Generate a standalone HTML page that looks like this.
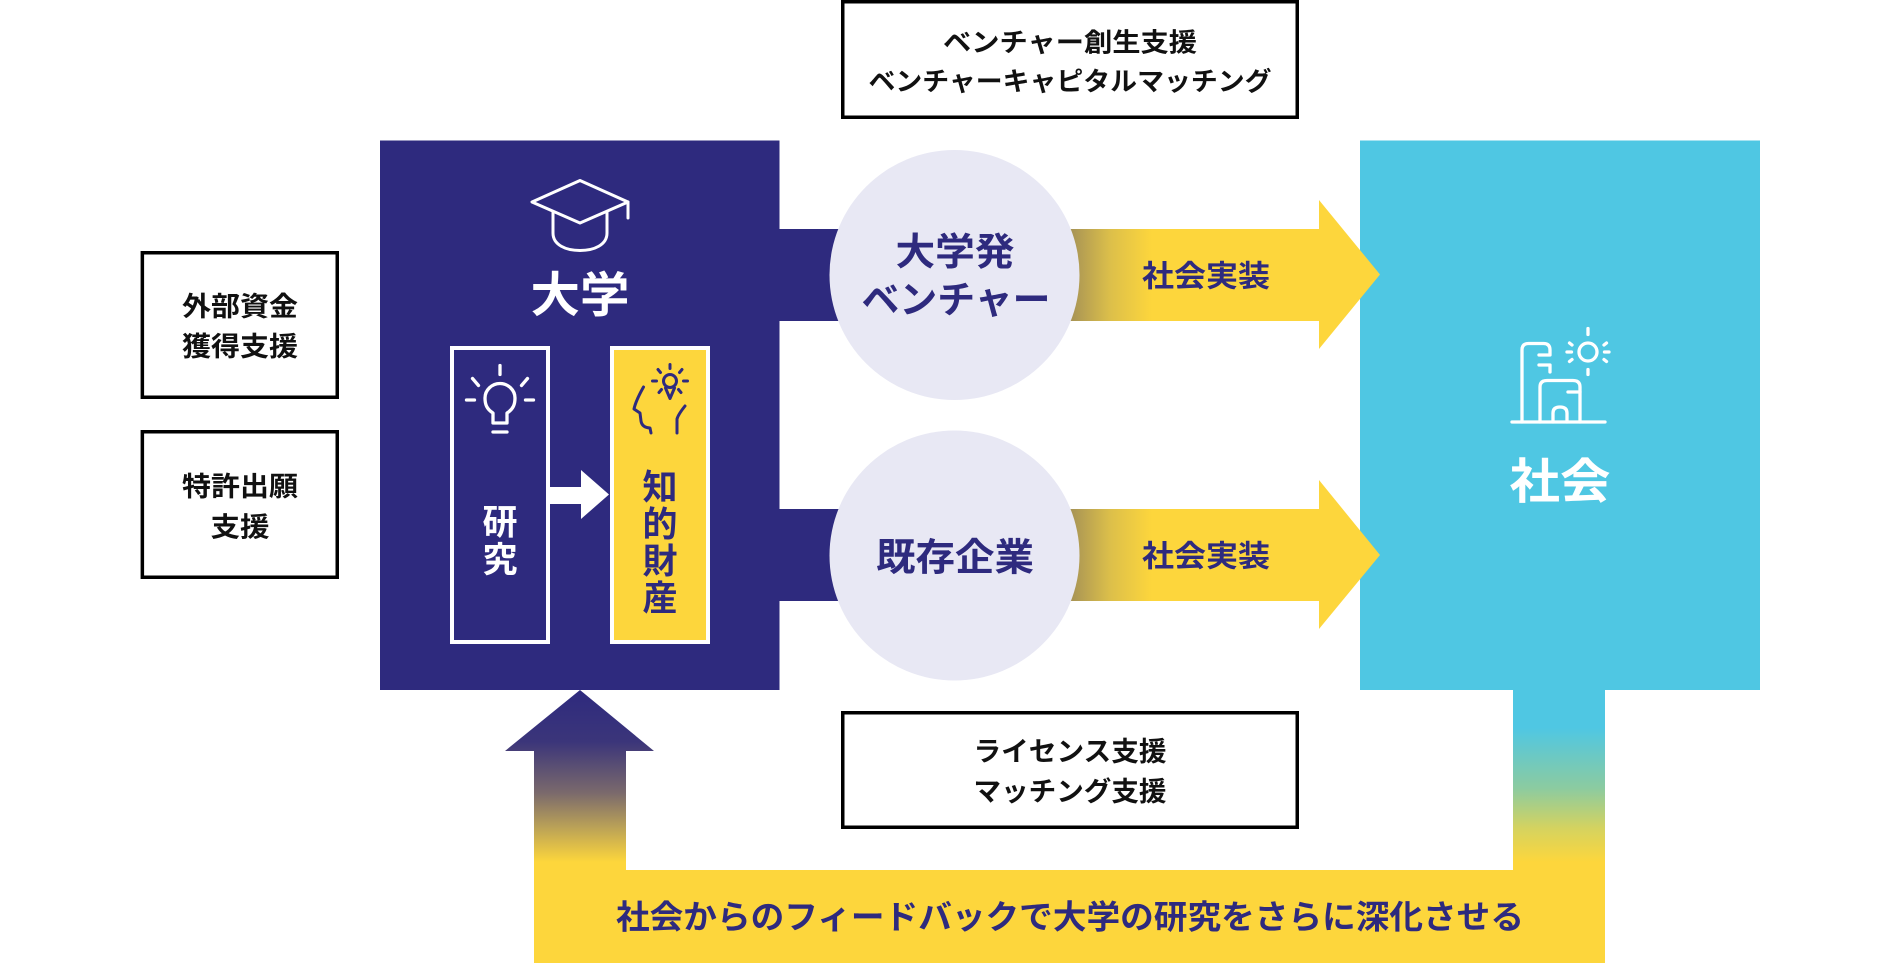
<!DOCTYPE html>
<html>
<head>
<meta charset="utf-8">
<style>
html,body{margin:0;padding:0;background:#fff;}
body{width:1900px;height:963px;overflow:hidden;}
svg{display:block;}
text{font-family:"Liberation Sans","Noto Sans CJK JP",sans-serif;font-weight:700;}
</style>
</head>
<body>
<svg width="1900" height="963" viewBox="0 0 1900 963" xmlns="http://www.w3.org/2000/svg">
  <defs>
    <linearGradient id="gArrow" gradientUnits="userSpaceOnUse" x1="1068" y1="0" x2="1152" y2="0">
      <stop offset="0" stop-color="#a39056"/>
      <stop offset="0.5" stop-color="#dcbf4a"/>
      <stop offset="1" stop-color="#fdd63c"/>
    </linearGradient>
    <linearGradient id="gLeft" gradientUnits="userSpaceOnUse" x1="0" y1="690" x2="0" y2="862">
      <stop offset="0" stop-color="#2e2a7e"/>
      <stop offset="0.3" stop-color="#3b357a"/>
      <stop offset="0.6" stop-color="#7b6a6c"/>
      <stop offset="0.8" stop-color="#bba257"/>
      <stop offset="1" stop-color="#fdd63c"/>
    </linearGradient>
    <linearGradient id="gRight" gradientUnits="userSpaceOnUse" x1="0" y1="728" x2="0" y2="862">
      <stop offset="0" stop-color="#4fc7e3"/>
      <stop offset="0.45" stop-color="#8ccba0"/>
      <stop offset="0.75" stop-color="#d5d35f"/>
      <stop offset="1" stop-color="#fdd63c"/>
    </linearGradient>
  </defs>

  <!-- Top support box -->
  <rect x="842.75" y="1.75" width="454.5" height="115.5" fill="#fff" stroke="#000" stroke-width="3.5"/>
  <text x="1070" y="51.4" text-anchor="middle" font-size="26" fill="#111" textLength="254" lengthAdjust="spacingAndGlyphs">ベンチャー創生支援</text>
  <text x="1070" y="90.4" text-anchor="middle" font-size="26" fill="#111" textLength="403" lengthAdjust="spacingAndGlyphs">ベンチャーキャピタルマッチング</text>

  <!-- Left boxes -->
  <rect x="142.35" y="252.75" width="194.9" height="144.5" fill="#fff" stroke="#000" stroke-width="3.5"/>
  <text x="240" y="315.8" text-anchor="middle" font-size="27" fill="#111" textLength="116" lengthAdjust="spacingAndGlyphs">外部資金</text>
  <text x="240" y="355.8" text-anchor="middle" font-size="27" fill="#111" textLength="116" lengthAdjust="spacingAndGlyphs">獲得支援</text>

  <rect x="142.35" y="431.75" width="194.9" height="145.5" fill="#fff" stroke="#000" stroke-width="3.5"/>
  <text x="240" y="495.8" text-anchor="middle" font-size="27" fill="#111" textLength="116" lengthAdjust="spacingAndGlyphs">特許出願</text>
  <text x="240" y="536.3" text-anchor="middle" font-size="27" fill="#111" textLength="59" lengthAdjust="spacingAndGlyphs">支援</text>

  <!-- Bottom support box -->
  <rect x="842.75" y="712.75" width="454.5" height="114.5" fill="#fff" stroke="#000" stroke-width="3.5"/>
  <text x="1070" y="760.8" text-anchor="middle" font-size="27" fill="#111" textLength="193" lengthAdjust="spacingAndGlyphs">ライセンス支援</text>
  <text x="1070" y="800.8" text-anchor="middle" font-size="27" fill="#111" textLength="193" lengthAdjust="spacingAndGlyphs">マッチング支援</text>

  <!-- University connectors -->
  <rect x="775" y="229" width="140" height="92" fill="#2e2a7e"/>
  <rect x="775" y="509" width="140" height="92" fill="#2e2a7e"/>

  <!-- University box -->
  <rect x="380" y="140.5" width="399.5" height="549.5" fill="#2e2a7e"/>

  <!-- Mortarboard icon -->
  <g fill="none" stroke="#fff" stroke-width="3" stroke-linejoin="round" stroke-linecap="round">
    <polygon points="580,180.5 532,202 580,223 628,202"/>
    <path d="M628,202 V218"/>
    <path d="M553,212 V233 C553,245 566,250.5 580,250.5 C594,250.5 607,245 607,233 V212"/>
  </g>
  <text x="580" y="311.7" text-anchor="middle" font-size="48" fill="#fff" textLength="99" lengthAdjust="spacingAndGlyphs">大学</text>

  <!-- 研究 box -->
  <rect x="452" y="348" width="96" height="294" fill="#2e2a7e" stroke="#fff" stroke-width="4"/>
  <g fill="none" stroke="#fff" stroke-width="3.3" stroke-linecap="round" stroke-linejoin="round">
    <path d="M500,365.5 V374.5"/>
    <path d="M472.5,378.5 L478.5,385.5"/>
    <path d="M527.5,378.5 L521.5,385.5"/>
    <path d="M466.5,400 H474.5"/>
    <path d="M525.5,400 H533.5"/>
    <path d="M493,423 V413 C486.5,409 485,404 485,398 C485,390 492,383.5 500,383.5 C508,383.5 515,390 515,398 C515,404 513.5,409 507,413 V423 Z"/>
    <path d="M493,432 H507"/>
  </g>
  <text x="500" y="534.3" text-anchor="middle" font-size="35" fill="#fff">研</text>
  <text x="500" y="571.8" text-anchor="middle" font-size="35" fill="#fff">究</text>

  <!-- Arrow between boxes -->
  <polygon points="550,487 581,487 581,470 609,494.5 581,519 581,504 550,504" fill="#fff"/>

  <!-- 知的財産 box -->
  <rect x="612" y="348" width="96" height="294" fill="#fdd63c" stroke="#fff" stroke-width="4"/>
  <g fill="none" stroke="#2e2a7e" stroke-width="3" stroke-linecap="round" stroke-linejoin="round">
    <circle cx="670" cy="381" r="6.5"/>
    <path d="M665.5,388 L670,398.5 L674.5,388"/>
    <path d="M670,364.5 V368.5"/>
    <path d="M652.5,381 H656.5"/>
    <path d="M683.5,381 H687.5"/>
    <path d="M658,369.5 L660.5,372.5"/>
    <path d="M682,369.5 L679.5,372.5"/>
    <path d="M659,392.5 L661.5,389.5"/>
    <path d="M681,392.5 L678.5,389.5"/>
    <path d="M643.5,387 C639,395 635.5,402 634,409 L640,413 L641,421 Q642,427.5 650,428 L651,433"/>
    <path d="M685,406 C681,411 678,415 677,419 L677,433"/>
  </g>
  <text x="660" y="499.3" text-anchor="middle" font-size="35" fill="#2e2a7e">知</text>
  <text x="660" y="536.3" text-anchor="middle" font-size="35" fill="#2e2a7e">的</text>
  <text x="660" y="573.3" text-anchor="middle" font-size="35" fill="#2e2a7e">財</text>
  <text x="660" y="610.3" text-anchor="middle" font-size="35" fill="#2e2a7e">産</text>

  <!-- Society box -->
  <rect x="1360" y="140.5" width="400" height="549.5" fill="#4fc7e3"/>
  <g fill="none" stroke="#fff" stroke-width="3.3" stroke-linecap="round" stroke-linejoin="round">
    <path d="M1512,422 H1605"/>
    <path d="M1522,422 V350 Q1522,343.5 1528.5,343.5 H1543.5 Q1550,343.5 1550,350 V355 H1539"/>
    <path d="M1539,365 H1550 V372"/>
    <path d="M1540,422 V387 Q1540,380.5 1547,380.5 H1573 Q1580,380.5 1580,387 V422"/>
    <path d="M1568,392 H1580"/>
    <path d="M1553,422 V413 Q1553,407 1560,407 Q1567,407 1567,413 V422"/>
    <circle cx="1588" cy="352" r="9"/>
    <path d="M1588,328.5 V334.5"/>
    <path d="M1588,369.5 V374.5"/>
    <path d="M1567,352 H1571.5"/>
    <path d="M1604.5,352 H1609"/>
    <path d="M1569.5,343 L1572,345"/>
    <path d="M1606.5,343 L1604,345"/>
    <path d="M1569.5,361.5 L1572,359.5"/>
    <path d="M1606.5,361.5 L1604,359.5"/>
  </g>
  <text x="1560" y="498.2" text-anchor="middle" font-size="48" fill="#fff" textLength="101" lengthAdjust="spacingAndGlyphs">社会</text>

  <!-- Yellow arrows (on top of society box) -->
  <polygon points="1000,229 1319,229 1319,200 1380,274.5 1319,349 1319,321 1000,321" fill="url(#gArrow)"/>
  <polygon points="1000,509 1319,509 1319,480 1380,555 1319,629 1319,601 1000,601" fill="url(#gArrow)"/>

  <!-- Circles -->
  <circle cx="954.5" cy="275" r="125" fill="#e8e8f4"/>
  <circle cx="954.5" cy="555.5" r="125" fill="#e8e8f4"/>

  <text x="955" y="265" text-anchor="middle" font-size="38" fill="#2e2a7e" textLength="119" lengthAdjust="spacingAndGlyphs">大学発</text>
  <text x="956" y="313" text-anchor="middle" font-size="38" fill="#2e2a7e" textLength="189" lengthAdjust="spacingAndGlyphs">ベンチャー</text>
  <text x="955" y="570.4" text-anchor="middle" font-size="38" fill="#2e2a7e" textLength="158" lengthAdjust="spacingAndGlyphs">既存企業</text>

  <text x="1206" y="286.5" text-anchor="middle" font-size="30" fill="#2e2a7e" textLength="128" lengthAdjust="spacingAndGlyphs">社会実装</text>
  <text x="1206" y="566.4" text-anchor="middle" font-size="30" fill="#2e2a7e" textLength="128" lengthAdjust="spacingAndGlyphs">社会実装</text>

  <!-- Feedback loop -->
  <rect x="1513" y="689" width="92" height="182" fill="url(#gRight)"/>
  <rect x="534" y="870" width="1071" height="93" fill="#fdd63c"/>
  <polygon points="580,690 654,751 626,751 626,871 534,871 534,751 505,751" fill="url(#gLeft)"/>
  <text x="1070" y="928.5" text-anchor="middle" font-size="33" fill="#2e2a7e" textLength="908" lengthAdjust="spacingAndGlyphs">社会からのフィードバックで大学の研究をさらに深化させる</text>
</svg>
</body>
</html>
